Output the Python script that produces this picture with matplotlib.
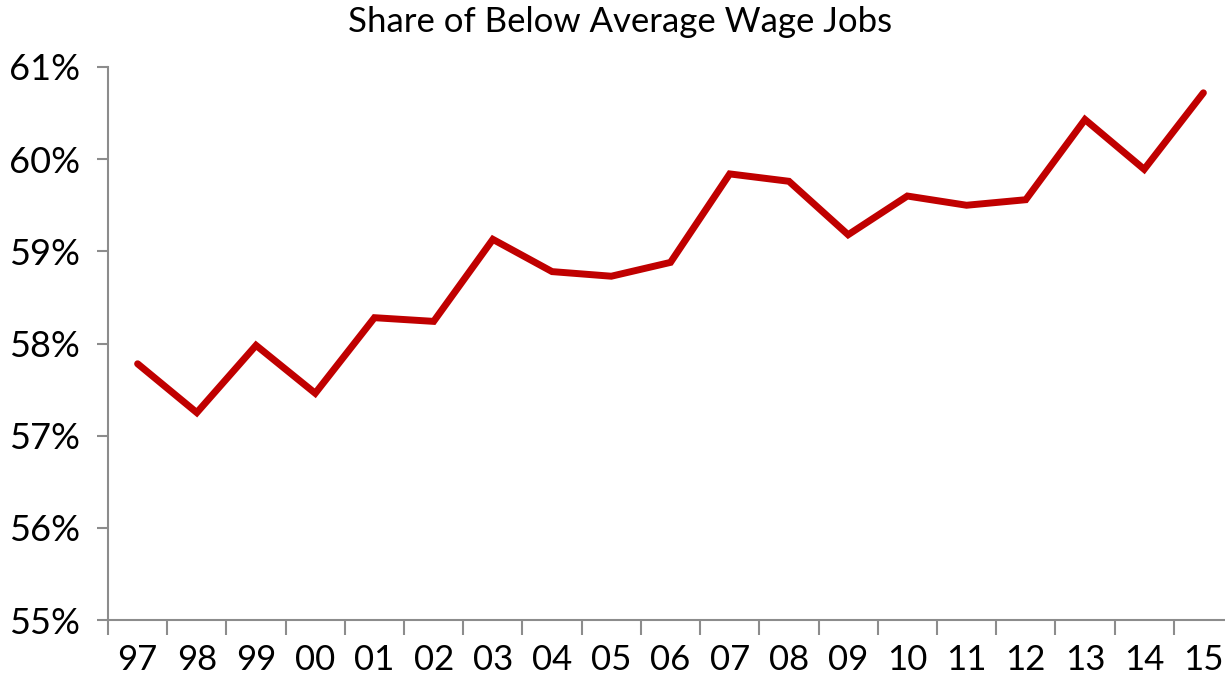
import matplotlib
matplotlib.use("Agg")
import matplotlib.pyplot as plt
from matplotlib.ticker import FuncFormatter, FixedLocator

years = ["97", "98", "99", "00", "01", "02", "03", "04", "05", "06",
         "07", "08", "09", "10", "11", "12", "13", "14", "15"]
share = [57.78, 57.25, 57.98, 57.46, 58.28, 58.24, 59.13, 58.78, 58.73, 58.88,
         59.84, 59.76, 59.18, 59.60, 59.50, 59.56, 60.43, 59.89, 60.72]

plt.rcParams["font.family"] = ["Lato", "DejaVu Sans"]

fig = plt.figure(figsize=(12.25, 6.81), dpi=100)
ax = fig.add_axes([108 / 1225, 1 - 620 / 681, 1125 / 1225, (620 - 67) / 681])

x = list(range(len(years)))
ax.plot(x, share, color="#C00000", lw=5, solid_joinstyle="miter",
        solid_capstyle="round", zorder=3)

ax.set_xlim(-0.5, len(years) - 0.5)
ax.set_ylim(55, 61)
ax.set_yticks(range(55, 62))
ax.yaxis.set_major_formatter(FuncFormatter(lambda v, p: f"{v:.0f}%"))
ax.set_xticks(x)
ax.set_xticklabels(years)
ax.xaxis.set_minor_locator(FixedLocator([i - 0.5 for i in range(len(years) + 1)]))

for s in ("top", "right"):
    ax.spines[s].set_visible(False)
for s in ("left", "bottom"):
    ax.spines[s].set_color("#8c8c8c")
    ax.spines[s].set_linewidth(1.5)

ax.tick_params(axis="y", length=8, width=1.5, color="#8c8c8c", labelsize=26, pad=12)
ax.tick_params(axis="x", which="major", length=0, labelsize=25, pad=17)
ax.tick_params(axis="x", which="minor", length=11, width=1.5, color="#8c8c8c")

fig.text(620 / 1225, 1 - 22 / 681, "Share of Below Average Wage Jobs",
         ha="center", va="center", fontsize=25)

fig.savefig("out.png", dpi=100)
